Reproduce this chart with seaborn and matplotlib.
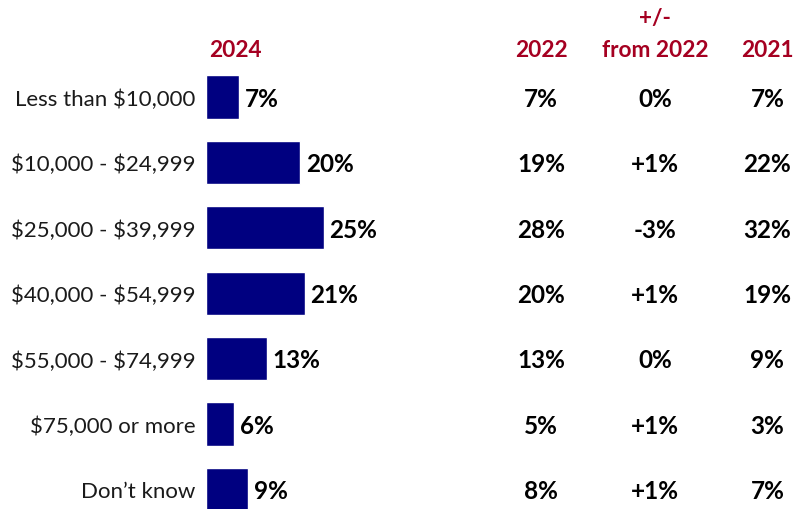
import matplotlib
matplotlib.use("Agg")
import matplotlib.pyplot as plt
import seaborn as sns
import pandas as pd

categories = ["Less than $10,000", "$10,000 - $24,999", "$25,000 - $39,999",
              "$40,000 - $54,999", "$55,000 - $74,999", "$75,000 or more", "Don\u2019t know"]
values_2024 = [7, 20, 25, 21, 13, 6, 9]
values_2022 = [7, 19, 28, 20, 13, 5, 8]
change_from_2022 = ["0%", "+1%", "-3%", "+1%", "0%", "+1%", "+1%"]
values_2021 = [7, 22, 32, 19, 9, 3, 7]

sns.set_theme(style="white")
plt.rcParams['font.family'] = ['Lato', 'DejaVu Sans']
plt.rcParams['text.parse_math'] = False

df = pd.DataFrame({"category": categories, "value": values_2024})

fig = plt.figure(figsize=(7.96, 5.10), dpi=100)
ax = fig.add_axes([206/796, 0.0, 1 - 206/796, 1 - 65.25/510])
sns.barplot(data=df, x="value", y="category", orient="h", color="#000080",
            saturation=1, width=0.66, ax=ax)
ax.set_xlim(0, 125.5)
ax.set_ylim(6.3, -0.5)
ax.set_xlabel("")
ax.set_ylabel("")
ax.set_xticks([])
ax.tick_params(axis="y", length=0, pad=7.5, labelsize=16, labelcolor="#1a1a1a")
for s in ax.spines.values():
    s.set_visible(False)

red = "#A50021"
col_2022 = 71.3
col_chg = 95.5
col_2021 = 119.4
fs = 17.5

for i in range(len(categories)):
    ax.text(values_2024[i] + 1.2, i + 0.02, f"{values_2024[i]}%", va="center", ha="left",
            fontsize=fs, fontweight="bold", color="black")
    ax.text(col_2022, i + 0.02, f"{values_2022[i]}%", va="center", ha="center",
            fontsize=fs, fontweight="bold", color="black")
    ax.text(col_chg, i + 0.02, change_from_2022[i], va="center", ha="center",
            fontsize=fs, fontweight="bold", color="black")
    ax.text(col_2021, i + 0.02, f"{values_2021[i]}%", va="center", ha="center",
            fontsize=fs, fontweight="bold", color="black")

hy = -0.73
hfs = 16.3
ax.text(6.2, hy, "2024", ha="center", va="center", fontsize=hfs, fontweight="bold", color=red, clip_on=False)
ax.text(col_2022, hy, "2022", ha="center", va="center", fontsize=hfs, fontweight="bold", color=red, clip_on=False)
ax.text(col_chg, hy, "from 2022", ha="center", va="center", fontsize=hfs, fontweight="bold", color=red, clip_on=False)
ax.text(col_chg, hy - 0.49, "+/-", ha="center", va="center", fontsize=hfs, fontweight="bold", color=red, clip_on=False)
ax.text(col_2021, hy, "2021", ha="center", va="center", fontsize=hfs, fontweight="bold", color=red, clip_on=False)

fig.savefig("out.png", dpi=100)
